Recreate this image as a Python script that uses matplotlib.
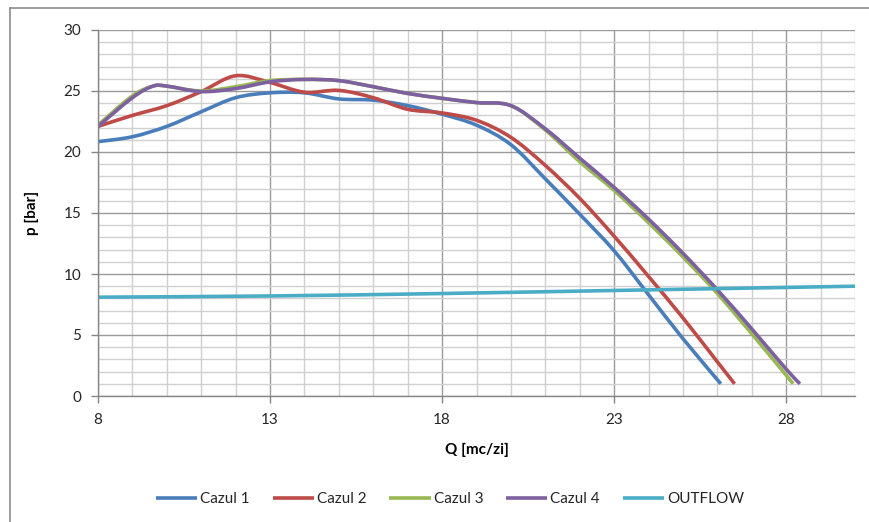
import numpy as np
import matplotlib
matplotlib.use("Agg")
import matplotlib.pyplot as plt
from matplotlib.path import Path
from matplotlib.patches import PathPatch
from matplotlib.lines import Line2D
from matplotlib.ticker import MultipleLocator

plt.rcParams['font.family'] = ['Lato', 'DejaVu Sans']

# Pump curves: flow Q [mc/zi] vs pressure p [bar]
q_cazul1 = [8, 9, 10, 11, 12, 13, 14, 15, 16, 17, 18, 19, 20, 21, 22, 23, 24, 25, 26.1]
p_cazul1 = [20.85, 21.25, 22.1, 23.3, 24.45, 24.85, 24.85, 24.35, 24.25, 23.8, 23.1,
            22.2, 20.6, 17.8, 14.9, 11.9, 8.3, 4.7, 1.0]

q_cazul2 = [8, 9, 10, 11, 12, 13, 14, 15, 16, 17, 18, 19, 20, 21, 22, 23, 24, 25, 26, 26.5]
p_cazul2 = [22.1, 23.0, 23.8, 24.95, 26.25, 25.7, 24.9, 25.05, 24.45, 23.5, 23.2,
            22.6, 21.2, 18.9, 16.2, 13.1, 9.8, 6.4, 2.8, 1.0]

q_cazul3 = [8, 9, 9.6, 10, 11, 12, 13, 14, 15, 16, 17, 18, 19, 20, 21, 22, 23, 24, 25,
            26, 27, 28, 28.2]
p_cazul3 = [22.2, 24.6, 25.4, 25.4, 25.0, 25.35, 25.85, 25.95, 25.85, 25.35, 24.8, 24.4,
            24.05, 23.8, 21.8, 19.2, 16.85, 14.2, 11.4, 8.4, 5.1, 1.7, 1.0]

q_cazul4 = [8, 9, 9.6, 10, 11, 12, 13, 14, 15, 16, 17, 18, 19, 20, 21, 22, 23, 24, 25,
            26, 27, 28, 28.4]
p_cazul4 = [22.1, 24.45, 25.4, 25.4, 24.95, 25.2, 25.75, 25.95, 25.85, 25.35, 24.8, 24.4,
            24.05, 23.8, 21.9, 19.5, 17.1, 14.5, 11.7, 8.7, 5.5, 2.2, 1.0]

q_outflow = [8, 13, 18, 23, 26, 30]
p_outflow = [8.1, 8.2, 8.4, 8.65, 8.8, 9.0]

series_names = ['Cazul 1', 'Cazul 2', 'Cazul 3', 'Cazul 4', 'OUTFLOW']
series_colors = ['#4A7EBB', '#BE4B48', '#98B954', '#7D60A0', '#4BACC6']

x_ticks = [8, 13, 18, 23, 28]


def smooth_path(xs, ys):
    """Catmull-Rom style smoothed line built from cubic Bezier segments."""
    pts = np.column_stack([xs, ys]).astype(float)
    ext = np.vstack([pts[0], pts, pts[-1]])
    verts = [pts[0]]
    codes = [Path.MOVETO]
    for i in range(1, len(ext) - 2):
        a, b, c, d = ext[i - 1], ext[i], ext[i + 1], ext[i + 2]
        verts += [b + (c - a) / 6.0, c - (d - b) / 6.0, c]
        codes += [Path.CURVE4] * 3
    return Path(verts, codes)


fig = plt.figure(figsize=(8.7, 5.22), dpi=100)
ax = fig.add_axes([98 / 870, 1 - 396 / 522, (855 - 98) / 870, (396 - 30) / 522])

ax.set_xlim(8, 30)
ax.set_ylim(0, 30)
ax.set_xticks(x_ticks)
ax.xaxis.set_minor_locator(MultipleLocator(1))
ax.yaxis.set_major_locator(MultipleLocator(5))
ax.yaxis.set_minor_locator(MultipleLocator(1))

ax.grid(which='minor', color='#D0D0D0', linewidth=1.0)
ax.grid(which='major', color='#9A9A9A', linewidth=1.0)
ax.set_axisbelow(True)

for side in ['top', 'right']:
    ax.spines[side].set_visible(False)
for side in ['left', 'bottom']:
    ax.spines[side].set_color('#868686')
    ax.spines[side].set_linewidth(1.0)

ax.tick_params(which='major', length=5, width=1.0, color='#868686',
               labelsize=11, labelcolor='#262626', pad=7)
ax.tick_params(which='minor', length=0)

all_q = [q_cazul1, q_cazul2, q_cazul3, q_cazul4, q_outflow]
all_p = [p_cazul1, p_cazul2, p_cazul3, p_cazul4, p_outflow]
handles = []
for q, p, name, col in zip(all_q, all_p, series_names, series_colors):
    patch = PathPatch(smooth_path(q, p), fill=False, edgecolor=col, linewidth=2.6,
                      capstyle='butt', joinstyle='round', transform=ax.transData)
    ax.add_patch(patch)
    handles.append(Line2D([], [], color=col, linewidth=2.6, solid_capstyle='butt'))

ax.set_xlabel('Q [mc/zi]', fontsize=11, fontweight='bold', color='#000000', labelpad=12)
ax.set_ylabel('p [bar]', fontsize=11, fontweight='bold', color='#000000', labelpad=18)

fig.legend(handles, series_names, loc='center', bbox_to_anchor=(450 / 870, 1 - 499 / 522),
           ncol=5, frameon=False, fontsize=11, handlelength=2.7, handletextpad=0.2,
           columnspacing=1.5, labelcolor='#262626')

# Chart frame (left and top edges)
fig.add_artist(Line2D([10 / 870, 10 / 870], [0, 1 - 8 / 522], transform=fig.transFigure,
                      color='#8C8C8C', linewidth=1.2))
fig.add_artist(Line2D([10 / 870, 1], [1 - 8 / 522, 1 - 8 / 522], transform=fig.transFigure,
                      color='#8C8C8C', linewidth=1.2))

fig.savefig('out.png', dpi=100, facecolor='white')
